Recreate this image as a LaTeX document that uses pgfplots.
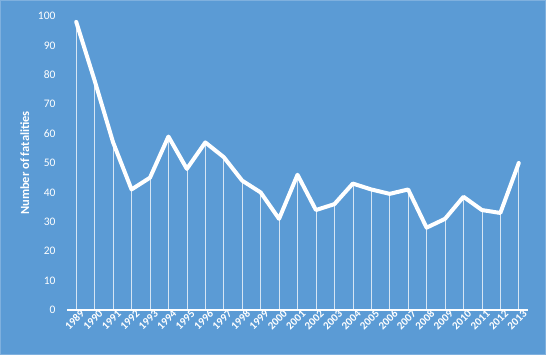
\documentclass[border=0pt]{standalone}
\usepackage{pgfplots}
\pgfplotsset{compat=1.18}
\usepackage{fontspec}
\setmainfont{Carlito}
\definecolor{bg}{HTML}{5B9BD5}
\definecolor{edge}{HTML}{7FB0DE}
\begin{document}
\begin{tikzpicture}
\fill[bg] (0,0) rectangle (546pt,355pt);
\draw[edge, line width=1.2pt] (0.6pt,0.6pt) rectangle (545.4pt,354.4pt);
\begin{axis}[
  at={(67pt,45pt)}, anchor=south west,
  scale only axis, width=461pt, height=294pt,
  xmin=1988.5, xmax=2013.5, ymin=0, ymax=100,
  axis line style={draw=none},
  ytick={0,10,...,100},
  xtick={1989,...,2013},
  xticklabel={\pgfmathprintnumber[fixed,1000 sep={},precision=0]{\tick}},
  xticklabel style={rotate=45, anchor=east, font=\fontsize{11}{12}\selectfont\bfseries, text=white, xshift=4pt, yshift=-6pt, inner sep=1pt},
  yticklabel style={font=\fontsize{11.5}{12}\selectfont, text=white, xshift=-8pt},
  /pgf/number format/assume math mode=true,
  major tick length=0pt,
  ylabel={\textbf{Number of fatalities}},
  ylabel style={text=white, font=\fontsize{12.5}{13}\selectfont, xshift=0pt, yshift=2pt},
  clip=false,
]
\draw[white, line width=1.2pt] (axis cs:1988.5,0) -- (axis cs:2013.5,0);
\addplot[ycomb, white, opacity=0.75, line width=0.6pt, no marks] coordinates {
(1989,98) (1990,78) (1991,57) (1992,41) (1993,45) (1994,59) (1995,48) (1996,57) (1997,52) (1998,44) (1999,40) (2000,31) (2001,46) (2002,34) (2003,36) (2004,43) (2005,41) (2006,39.5) (2007,41) (2008,28) (2009,31) (2010,38.5) (2011,34) (2012,33) (2013,50)
};
\addplot[white, line width=4pt, no marks, line join=round, line cap=round] coordinates {
(1989,98) (1990,78) (1991,57) (1992,41) (1993,45) (1994,59) (1995,48) (1996,57) (1997,52) (1998,44) (1999,40) (2000,31) (2001,46) (2002,34) (2003,36) (2004,43) (2005,41) (2006,39.5) (2007,41) (2008,28) (2009,31) (2010,38.5) (2011,34) (2012,33) (2013,50)
};
\end{axis}
\end{tikzpicture}
\end{document}
